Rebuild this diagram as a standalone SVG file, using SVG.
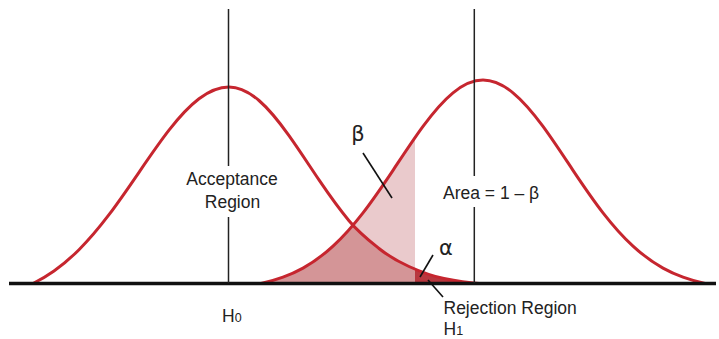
<svg xmlns="http://www.w3.org/2000/svg" width="719" height="339" viewBox="0 0 719 339">
<style>
.curve{fill:none;stroke:#c6262f;stroke-width:3;stroke-linejoin:round;stroke-linecap:round}
.axis{stroke:#111;stroke-width:3.5;fill:none}
.vline{stroke:#222;stroke-width:1.5;fill:none}
.lead{stroke:#111;stroke-width:1.6;fill:none}
.lbl{font-family:"Liberation Sans",Arial,sans-serif;font-size:17.5px;fill:#222}
.greek{font-family:"DejaVu Sans","Liberation Sans",sans-serif;font-size:21px;fill:#222}
</style>
<defs>
<path id="leftCurve" d="M33,283.5 C40,280.07 47,275.95 54,271 C62.33,265.11 70.67,258.04 79,249.7 C89,239.69 99,227.9 109,214.7 C119,201.5 129,186.9 139,172.3 C149,157.7 159,143.05 169,130.2 C179,117.35 189,106.39 199,98.8 C209,91.21 219,87 229,87 C239,87 249,91.85 259,100.5 C269,109.15 279,121.59 289,135.6 C299,149.61 309,165.12 319,179.9 C329,194.68 339,208.65 349,220.7 C359,232.75 369,240.5 379,248.5 C389,256.5 399,262 409,266.5 C420.67,271.75 432.33,276.17 444,278.5 C455.67,280.83 467.33,282.68 479,283.5"/>
<path id="rightCurve" d="M261,283.5 C268.33,281.94 275.67,279.88 283,277.2 C289.67,274.76 296.33,271.81 303,268.1 C313,262.53 323,255.31 333,246.1 C343,236.89 353,225.7 363,212.8 C373,199.9 383,185.26 393,170.3 C403,155.34 413,140.02 423,126.4 C433,112.78 443,101.01 453,92.8 C463,84.59 473,80 483,80 C493,80 503,84.59 513,92.8 C523,101.01 533,112.78 543,126.4 C553,140.02 563,155.34 573,170.3 C583,185.26 593,199.9 603,212.8 C613,225.7 623,236.89 633,246.1 C643,255.31 653,262.53 663,268.1 C669.67,271.81 676.33,274.76 683,277.2 C690.33,279.88 697.67,281.94 705,283.5"/>
<clipPath id="beforeCrit"><rect x="0" y="0" width="415" height="290"/></clipPath>
<clipPath id="afterCrit"><rect x="415" y="0" width="120" height="290"/></clipPath>
<clipPath id="underRight"><use href="#rightCurve"/></clipPath>
</defs>

<g id="shading">
  <use href="#rightCurve" fill="#eacacc" clip-path="url(#beforeCrit)"/>
  <g clip-path="url(#beforeCrit)">
    <use href="#leftCurve" fill="#d49597" clip-path="url(#underRight)"/>
  </g>
  <use href="#leftCurve" fill="#b8373e" clip-path="url(#afterCrit)"/>
</g>

<g id="h0-distribution"><use href="#leftCurve" class="curve"/></g>
<g id="h1-distribution"><use href="#rightCurve" class="curve"/></g>

<g id="axis">
  <line class="axis" x1="9" y1="283.5" x2="716" y2="283.5"/>
</g>

<g id="h0-mean-line">
  <line class="vline" x1="228.5" y1="9" x2="228.5" y2="166"/>
  <line class="vline" x1="228.5" y1="217" x2="228.5" y2="283"/>
</g>
<g id="h1-mean-line">
  <line class="vline" x1="474.3" y1="9" x2="474.3" y2="176"/>
  <line class="vline" x1="474.3" y1="207" x2="474.3" y2="283"/>
</g>

<g id="connectors">
  <line class="lead" x1="363" y1="153" x2="392" y2="198"/>
  <line class="lead" x1="433" y1="255" x2="420" y2="277"/>
  <line class="lead" x1="428" y1="280" x2="443" y2="297"/>
</g>

<g id="acceptance-label">
  <text class="lbl" x="232" y="185" text-anchor="middle">Acceptance</text>
  <text class="lbl" x="232.5" y="208" text-anchor="middle">Region</text>
</g>
<g id="area-label"><text class="lbl" x="443" y="198.5">Area = 1 – β</text></g>
<g id="beta-label"><text class="greek" x="358" y="141" text-anchor="middle">β</text></g>
<g id="alpha-label"><text class="greek" x="446" y="255" text-anchor="middle">α</text></g>
<g id="h0-label"><text class="lbl" x="222" y="322">H<tspan font-size="12.5">0</tspan></text></g>
<g id="rejection-label">
  <text class="lbl" x="443.5" y="313.5">Rejection Region</text>
  <text class="lbl" x="443.5" y="335">H<tspan font-size="12.5">1</tspan></text>
</g>
</svg>
